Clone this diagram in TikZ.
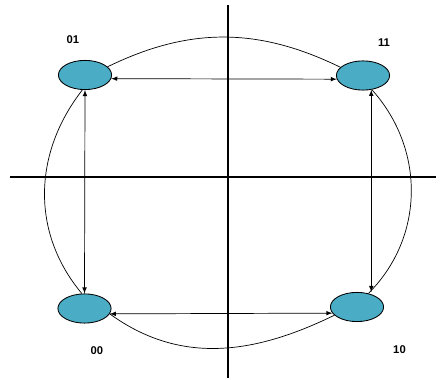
\documentclass[tikz,border=0pt]{standalone}
\usepackage{fontspec}
\setmainfont{Liberation Sans}
\usepackage{tikz}
\definecolor{zustand}{HTML}{4BACC6}
\usetikzlibrary{arrows}
\usetikzlibrary{arrows.meta}
\usetikzlibrary{shapes}
\usetikzlibrary{calc}

\begin{document}
\begin{tikzpicture}
    [
    x=0.025cm, y=0.025cm, >=latex,
    font=\fontsize{8}{10}\selectfont\bfseries,
    %Voreinstellung für Zustände
    zust/.style={ellipse, draw=black, line width=0.6pt, fill=zustand,
        minimum width=1.33cm, minimum height=0.73cm, inner sep=0pt},
    kante/.style={line width=0.5pt}
    ]
    
    %Rahmen
    \useasboundingbox (0,0) rectangle (441,380);
    
    %Achsen
    \draw[line width=0.8pt] (228,375) -- (228,2);
    \draw[line width=0.8pt] (10,203) -- (436,203);
    
    %Zustände
    \node[zust] (n01) at (85,305) {};
    \node[zust] (n11) at (363,304.5) {};
    \node[zust] (n00) at (84.5,71.5) {};
    \node[zust] (n10) at (357,73) {};
    
    %Beschriftungen
    \node (l01) at (73,340) {01};
    \node (l11) at (384,337) {11};
    \node (l00) at (97,29.5) {00};
    \node (l10) at (399.5,30) {10};
    
    %Bögen
    \draw[kante] (n01.20) to[out=26,in=154] (n11.160);
    \draw[kante] (n01.-100) to[out=232,in=130] (n00.100);
    \draw[kante] (n11.-58) to[out=-48,in=45] (n10.50);
    \draw[kante] (n00.-12) to[out=-36,in=206] (n10.200);
    
    %Pfeile
    \draw[kante, <->] (n01.-8) -- (n11.188);
    \draw[kante, <->] (n01.south) -- (n00.north);
    \draw[kante, <->] (n11.-60) -- (n11.-60 |- n10.north);
    \draw[kante, <->] (n00.-12) -- (n10.194);
\end{tikzpicture}
\end{document}
